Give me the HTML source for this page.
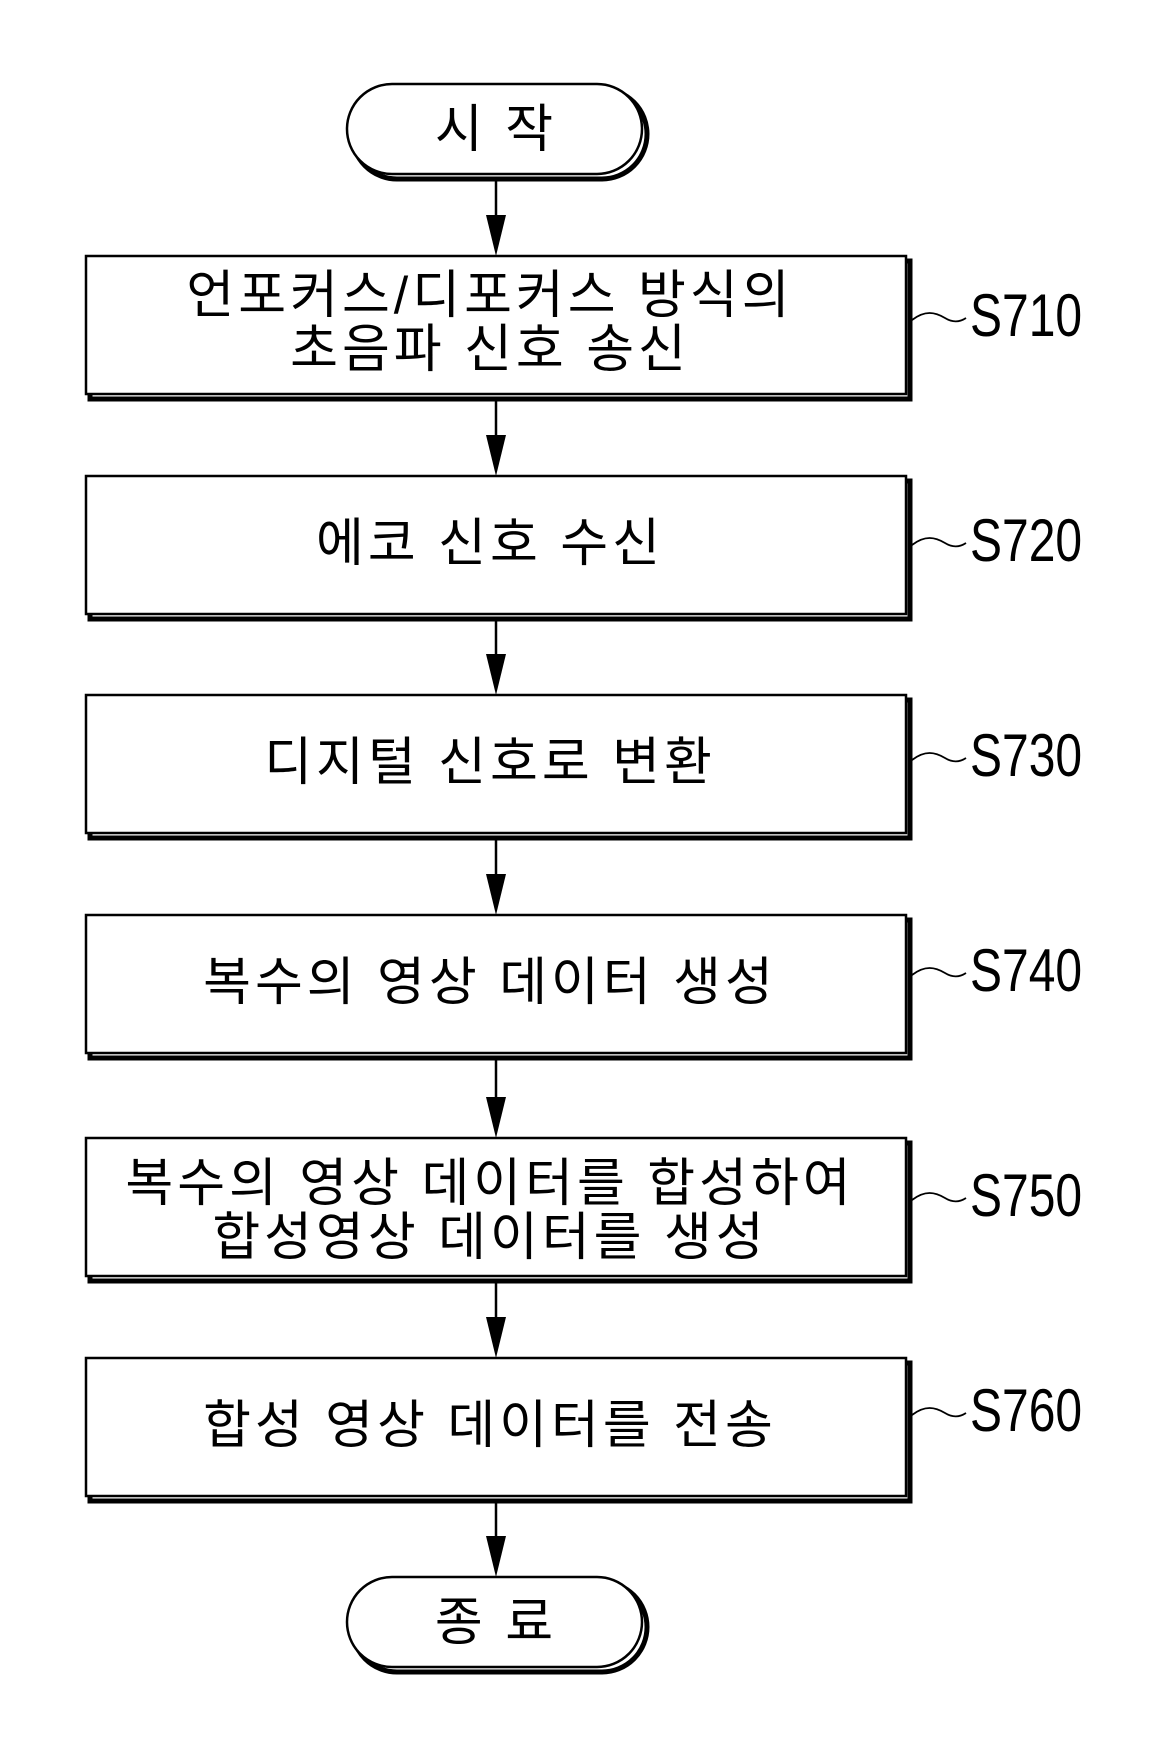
<!DOCTYPE html>
<html><head><meta charset="utf-8"><style>
html,body{margin:0;padding:0;background:#fff;}
svg{display:block;}
.k{font-family:"Liberation Sans","Noto Sans CJK KR",sans-serif;font-size:52px;fill:#000;letter-spacing:4px;}
.s{font-family:"Liberation Sans",sans-serif;font-size:60px;fill:#000;}
</style></head><body>
<svg width="1157" height="1739" viewBox="0 0 1157 1739" xmlns="http://www.w3.org/2000/svg">
<g fill="none" stroke="#000">
<rect x="352" y="89" width="295" height="90" rx="45" ry="45" stroke-width="5"/>
<rect x="347" y="84" width="295" height="90" rx="45" ry="45" fill="#fff" stroke-width="2.5"/>
<rect x="352" y="1582" width="295" height="90" rx="45" ry="45" stroke-width="5"/>
<rect x="347" y="1577" width="295" height="90" rx="45" ry="45" fill="#fff" stroke-width="2.5"/>
</g>
<g stroke="#000" fill="#fff">
<rect x="90" y="261" width="820" height="138" stroke-width="5"/>
<rect x="86" y="256" width="820" height="138" stroke-width="2.5"/>
<rect x="90" y="481" width="820" height="138" stroke-width="5"/>
<rect x="86" y="476" width="820" height="138" stroke-width="2.5"/>
<rect x="90" y="700" width="820" height="138" stroke-width="5"/>
<rect x="86" y="695" width="820" height="138" stroke-width="2.5"/>
<rect x="90" y="920" width="820" height="138" stroke-width="5"/>
<rect x="86" y="915" width="820" height="138" stroke-width="2.5"/>
<rect x="90" y="1143" width="820" height="138" stroke-width="5"/>
<rect x="86" y="1138" width="820" height="138" stroke-width="2.5"/>
<rect x="90" y="1363" width="820" height="138" stroke-width="5"/>
<rect x="86" y="1358" width="820" height="138" stroke-width="2.5"/>
</g>
<g stroke="#000" stroke-width="2.5">
<line x1="496" y1="180" x2="496" y2="230"/>
<line x1="496" y1="400" x2="496" y2="450"/>
<line x1="496" y1="620" x2="496" y2="669"/>
<line x1="496" y1="839" x2="496" y2="889"/>
<line x1="496" y1="1059" x2="496" y2="1112"/>
<line x1="496" y1="1282" x2="496" y2="1332"/>
<line x1="496" y1="1502" x2="496" y2="1551"/>
</g>
<g fill="#000">
<polygon points="486,215 506,215 496,256"/>
<polygon points="486,435 506,435 496,476"/>
<polygon points="486,654 506,654 496,695"/>
<polygon points="486,874 506,874 496,915"/>
<polygon points="486,1097 506,1097 496,1138"/>
<polygon points="486,1317 506,1317 496,1358"/>
<polygon points="486,1536 506,1536 496,1577"/>
</g>
<g class="k" text-anchor="middle">
<text x="496" y="147" style="letter-spacing:4px">시 작</text>
<text x="490" y="313">언포커스/디포커스 방식의</text>
<text x="490" y="367">초음파 신호 송신</text>
<text x="490" y="561">에코 신호 수신</text>
<text x="490" y="780">디지털 신호로 변환</text>
<text x="490" y="1000">복수의 영상 데이터 생성</text>
<text x="490" y="1201">복수의 영상 데이터를 합성하여</text>
<text x="490" y="1255">합성영상 데이터를 생성</text>
<text x="490" y="1443">합성 영상 데이터를 전송</text>
<text x="496" y="1640" style="letter-spacing:4px">종 료</text>
</g>
<g fill="none" stroke="#000" stroke-width="1.8">
<path d="M912,320 C925,310 935,312 945,318 C953,323 960,322 966,318"/>
<path d="M912,545 C925,535 935,537 945,543 C953,548 960,547 966,543"/>
<path d="M912,760 C925,750 935,752 945,758 C953,763 960,762 966,758"/>
<path d="M912,975 C925,965 935,967 945,973 C953,978 960,977 966,973"/>
<path d="M912,1200 C925,1190 935,1192 945,1198 C953,1203 960,1202 966,1198"/>
<path d="M912,1415 C925,1405 935,1407 945,1413 C953,1418 960,1417 966,1413"/>
</g>
<g class="s">
<text transform="translate(970,336) scale(0.8,1)">S710</text>
<text transform="translate(970,561) scale(0.8,1)">S720</text>
<text transform="translate(970,776) scale(0.8,1)">S730</text>
<text transform="translate(970,991) scale(0.8,1)">S740</text>
<text transform="translate(970,1216) scale(0.8,1)">S750</text>
<text transform="translate(970,1431) scale(0.8,1)">S760</text>
</g>
</svg>
</body></html>
